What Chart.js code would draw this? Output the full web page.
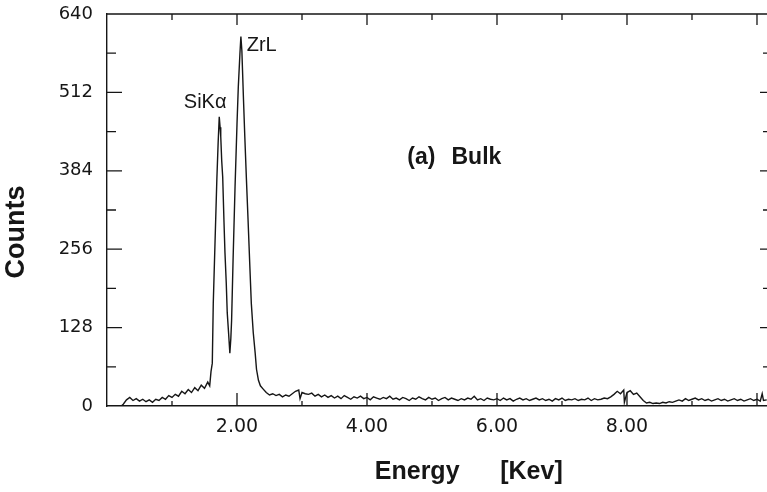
<!DOCTYPE html>
<html>
<head>
<meta charset="utf-8">
<script src="https://cdn.jsdelivr.net/npm/chart.js@4"></script>
<style>
  html, body { margin: 0; padding: 0; background: #fff; }
  #wrap { width: 767px; height: 492px; position: relative; }
</style>
</head>
<body>
<div id="wrap"><canvas id="spectrum"></canvas></div>
<script>
// EDS spectrum, bulk sample
const energy = [
  0.22, 0.25, 0.30, 0.35, 0.40, 0.45, 0.50, 0.55, 0.60, 0.65,
  0.70, 0.75, 0.80, 0.85, 0.90, 0.95, 1.00, 1.05, 1.10, 1.15,
  1.20, 1.25, 1.30, 1.35, 1.40, 1.45, 1.50, 1.55, 1.58, 1.60,
  1.62, 1.635, 1.66, 1.69, 1.71, 1.727, 1.74, 1.75, 1.765, 1.78,
  1.80, 1.815, 1.835, 1.85, 1.87, 1.89, 1.905, 1.917, 1.94, 1.97,
  2.00, 2.02, 2.045, 2.06, 2.075, 2.085, 2.10, 2.12, 2.145, 2.17,
  2.195, 2.22, 2.25, 2.28, 2.30, 2.33, 2.36, 2.40, 2.45, 2.50,
  2.55, 2.60, 2.65, 2.70, 2.75, 2.80, 2.85, 2.90, 2.95, 2.97,
  3.00, 3.05, 3.10, 3.15, 3.20, 3.25, 3.30, 3.35, 3.40, 3.45,
  3.50, 3.55, 3.60, 3.65, 3.70, 3.75, 3.80, 3.85, 3.90, 3.95,
  4.00, 4.05, 4.10, 4.15, 4.20, 4.25, 4.30, 4.35, 4.40, 4.45,
  4.50, 4.55, 4.60, 4.65, 4.70, 4.75, 4.80, 4.85, 4.90, 4.95,
  5.00, 5.05, 5.10, 5.15, 5.20, 5.25, 5.30, 5.35, 5.40, 5.45,
  5.50, 5.55, 5.60, 5.65, 5.70, 5.75, 5.80, 5.85, 5.90, 5.95,
  6.00, 6.05, 6.10, 6.15, 6.20, 6.25, 6.30, 6.35, 6.40, 6.45,
  6.50, 6.55, 6.60, 6.65, 6.70, 6.75, 6.80, 6.85, 6.90, 6.95,
  7.00, 7.05, 7.10, 7.15, 7.20, 7.25, 7.30, 7.35, 7.40, 7.45,
  7.50, 7.55, 7.60, 7.65, 7.70, 7.75, 7.80, 7.85, 7.90, 7.95,
  7.96, 8.00, 8.05, 8.10, 8.15, 8.20, 8.25, 8.30, 8.35, 8.40,
  8.45, 8.50, 8.55, 8.60, 8.65, 8.70, 8.75, 8.80, 8.85, 8.90,
  8.95, 9.00, 9.05, 9.10, 9.15, 9.20, 9.25, 9.30, 9.35, 9.40,
  9.45, 9.50, 9.55, 9.60, 9.65, 9.70, 9.75, 9.80, 9.85, 9.90,
  9.95, 10.00, 10.05, 10.08, 10.10, 10.15
];
const counts = [
  0, 3, 10, 14, 9, 12, 8, 11, 7, 10,
  6, 11, 9, 14, 11, 17, 14, 19, 16, 24,
  20, 27, 22, 30, 25, 34, 29, 39, 33, 56,
  70, 168, 260, 370, 430, 472, 455, 440, 400, 374,
  300, 250, 200, 152, 120, 86, 110, 140, 240, 358,
  460, 521, 575, 603, 580, 548, 500, 440, 370, 304,
  235, 168, 120, 86, 60, 42, 33, 28, 22, 18,
  20, 17, 19, 15, 18, 16, 20, 24, 26, 12,
  22, 20, 19, 21, 16, 19, 15, 18, 14, 17,
  13, 16, 12, 17, 14, 11, 15, 13, 16, 12,
  14, 10, 15, 13, 11, 14, 12, 16, 11, 13,
  10, 14, 12, 9, 13, 11, 15, 12, 10, 14,
  11, 13, 9, 12, 14, 10, 13, 11, 9, 12,
  10, 13, 11, 16, 10, 12, 9, 13, 11, 10,
  12, 9, 13, 10, 12, 8, 11, 13, 10, 12,
  9, 11, 13, 10, 12, 9, 11, 8, 12, 10,
  13, 9, 11, 10, 12, 9, 11, 10, 13, 9,
  12, 10, 11, 13, 12, 15, 19, 24, 20, 26,
  6, 22, 25, 19, 21, 15, 9, 5, 6, 4,
  5, 4, 6, 5, 7, 6, 8, 10, 8, 12,
  9, 11, 13, 10, 12, 9, 11, 8, 10, 12,
  9, 11, 8, 10, 12, 9, 11, 8, 10, 12,
  9, 11, 8, 20, 9, 10
];

const xTickLabels = [2, 4, 6, 8];
const energyTicks = [1, 2, 3, 4, 5, 6, 7, 8, 9, 10];
const countTicks  = [64, 128, 192, 256, 320, 384, 448, 512, 576];
const peakLabels = [
  { text: 'SiKα', e: 1.51, c: 495 },
  { text: 'ZrL',  e: 2.38, c: 589 }
];

const INK = '#161616';

// frame, inward tick marks, titles and annotations
const framePlugin = {
  id: 'frame',
  afterDraw(chart) {
    const { ctx, chartArea: a, scales: { x, y } } = chart;
    ctx.save();
    ctx.strokeStyle = INK;
    ctx.lineWidth = 1.3;
    ctx.beginPath();
    ctx.moveTo(a.left, a.top);
    ctx.lineTo(a.right, a.top);
    energyTicks.forEach(v => {
      const px = x.getPixelForValue(v);
      const major = v % 2 === 0;
      ctx.moveTo(px, a.bottom);
      ctx.lineTo(px, a.bottom - (major ? 13 : 5));
      ctx.moveTo(px, a.top);
      ctx.lineTo(px, a.top + (major ? 11 : 6));
    });
    countTicks.forEach(v => {
      const py = y.getPixelForValue(v);
      const major = v % 128 === 0;
      ctx.moveTo(a.left, py);
      ctx.lineTo(a.left + (major ? 15 : 9), py);
      ctx.moveTo(a.right, py);
      ctx.lineTo(a.right - (major ? 7 : 4), py);
    });
    ctx.stroke();

    ctx.fillStyle = INK;
    ctx.textBaseline = 'middle';

    ctx.font = '20px "Liberation Sans", Arial, sans-serif';
    ctx.textAlign = 'center';
    peakLabels.forEach(p => {
      ctx.fillText(p.text, x.getPixelForValue(p.e), y.getPixelForValue(p.c));
    });

    ctx.font = 'bold 23px "Liberation Sans", Arial, sans-serif';
    ctx.textAlign = 'left';
    ctx.fillText('(a)', x.getPixelForValue(4.62), y.getPixelForValue(406));
    ctx.fillText('Bulk', x.getPixelForValue(5.30), y.getPixelForValue(406));

    ctx.font = 'bold 25px "Liberation Sans", Arial, sans-serif';
    ctx.fillText('Energy', x.getPixelForValue(4.12), a.bottom + 66);
    ctx.fillText('[Kev]', x.getPixelForValue(6.05), a.bottom + 66);

    ctx.translate(a.left - 90, y.getPixelForValue(284));
    ctx.rotate(-Math.PI / 2);
    ctx.textAlign = 'center';
    ctx.font = 'bold 27px "Liberation Sans", Arial, sans-serif';
    ctx.fillText('Counts', 0, 0);
    ctx.restore();
  }
};

new Chart(document.getElementById('spectrum'), {
  type: 'line',
  data: {
    datasets: [{
      data: energy.map((e, i) => ({ x: e, y: counts[i] })),
      borderColor: INK,
      borderWidth: 1.4,
      pointRadius: 0,
      tension: 0,
      fill: false
    }]
  },
  options: {
    responsive: true,
    maintainAspectRatio: false,
    animation: false,
    layout: { padding: { top: 14, right: 0, left: 0, bottom: 0 } },
    plugins: {
      legend: { display: false },
      tooltip: { enabled: false }
    },
    scales: {
      x: {
        type: 'linear',
        min: 0,
        max: 10.154,
        afterFit: s => { s.height = 86; },
        afterBuildTicks: s => { s.ticks = xTickLabels.map(v => ({ value: v })); },
        grid: { display: false, drawTicks: false },
        border: { display: true, color: INK, width: 1.4 },
        ticks: {
          padding: 10,
          color: INK,
          font: { family: '"DejaVu Sans", sans-serif', size: 19 },
          maxRotation: 0,
          callback: v => v.toFixed(2)
        }
      },
      y: {
        min: 0,
        max: 640,
        afterFit: s => { s.width = 107; },
        // hidden grid, but its tick length still sets the label gap
        grid: { display: false, drawTicks: true, tickLength: 14 },
        border: { display: true, color: INK, width: 1.4 },
        ticks: {
          stepSize: 128,
          padding: 0,
          color: INK,
          font: { family: '"DejaVu Sans", sans-serif', size: 18 }
        }
      }
    }
  },
  plugins: [framePlugin]
});
</script>
</body>
</html>
